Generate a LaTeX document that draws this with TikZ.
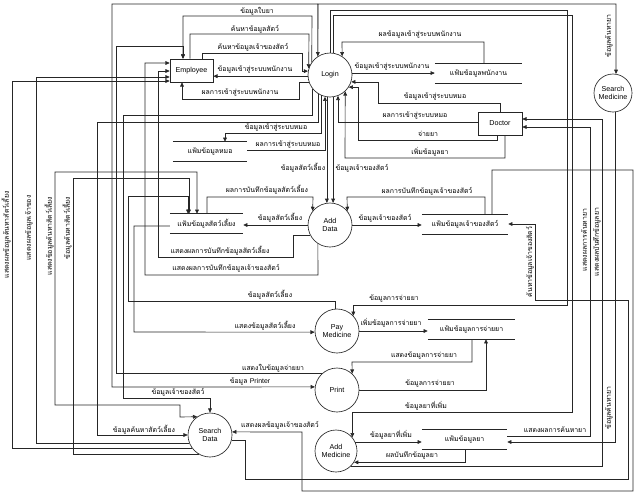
\documentclass[tikz,border=0pt]{standalone}
\usepackage{fontspec}
\setmainfont{Liberation Sans}
\newfontfamily\thaifnt[Script=Thai]{Loma}
\usetikzlibrary{arrows.meta}
\begin{document}
\begin{tikzpicture}[x=0.03cm,y=-0.03cm,
  ln/.style={draw=black!85,line width=0.55pt},
  arr/.style={ln,-{Triangle[length=3.6pt,width=3.2pt]}},
  arrb/.style={ln,{Triangle[length=3.6pt,width=3.2pt]}-{Triangle[length=3.6pt,width=3.2pt]}},
  proc/.style={circle,draw=black!85,line width=0.55pt,inner sep=0pt,align=center,font=\fontsize{6.1}{7}\selectfont},
  ent/.style={rectangle,draw=black!85,line width=0.55pt,inner sep=0pt,font=\fontsize{6.1}{7}\selectfont},
  store/.style={inner sep=0pt,minimum height=0.57cm,font=\fontsize{5.9}{7}\selectfont\thaifnt},
  lab/.style={inner sep=0.5pt,font=\fontsize{5.9}{7}\selectfont\thaifnt},
  vlab/.style={lab,rotate=90}]
\useasboundingbox (0,0) rectangle (639,497);
\fill[white] (0,0) rectangle (639,497);

% processes and entities
\node[ent,minimum width=1.29cm,minimum height=0.69cm] (emp) at (191.5,70.5) {Employee};
\node[ent,minimum width=1.32cm,minimum height=0.69cm] (doc) at (500,123.5) {Doctor};
\node[proc,minimum size=1.32cm] (login) at (330,75) {Login};
\node[proc,minimum size=1.14cm] (smed) at (613,93) {Search\\Medicine};
\node[proc,minimum size=1.32cm] (adddata) at (330,225) {Add\\Data};
\node[proc,minimum size=1.32cm] (pay) at (337,331) {Pay\\Medicine};
\node[proc,minimum size=1.32cm] (print) at (337,390) {Print};
\node[proc,minimum size=1.26cm] (addmed) at (336,451) {Add\\Medicine};
\node[proc,minimum size=1.32cm] (sdata) at (210,435) {Search\\Data};

% data stores
\node[store,minimum width=2.61cm] (fEmp) at (478.5,73.5) {แฟ้มข้อมูลพนักงาน};
\node[store,minimum width=2.22cm] (fDoc) at (210,151.5) {แฟ้มข้อมูลหมอ};
\node[store,minimum width=2.19cm] (fPet) at (206.5,223.5) {แฟ้มข้อมูลสัตว์เลี้ยง};
\node[store,minimum width=2.58cm] (fOwn) at (465,224.5) {แฟ้มข้อมูลเจ้าของสัตว์};
\node[store,minimum width=2.61cm] (fPay) at (471.5,329.5) {แฟ้มข้อมูลการจ่ายยา};
\node[store,minimum width=2.55cm] (fMed) at (464.5,439.5) {แฟ้มข้อมูลยา};
\foreach \s in {fEmp,fDoc,fPet,fOwn,fPay,fMed}
  \draw[ln] (\s.north west) -- (\s.north east) (\s.south west) -- (\s.south east);

% ---- connectors: Employee / Login
\draw[arrb] (print.172) -- (112,387) -- (112,4) -| (login.123);
\draw[arr] (login.123) -- (318,4) -| (smed.81);
\draw[arr] (login.145) -- (312,16) -- (183,16) -- (183,0 |- emp.north);
\draw[arr] (print.133) -| (116,46) -| (183,0 |- emp.north);
\draw[arr] (190,0 |- emp.north) |- (309,34) -- (login.163);
\draw[arr] (202,0 |- emp.north) |- (302,53) |- (login.170);
\draw[arr] (login.183) -- (emp.east |- login.183);
\draw[arr] (login.198) -| (299,99) -| (182,0 |- emp.south);
\draw[arr] (sdata.216) -| (12,81) -- (emp.west |- 0,81);
\draw[arr] (sdata.201) -| (36,77) -- (emp.west |- 0,77);
\draw[arr] (adddata.237) -- (318,275) -| (145,63) -- (emp.west |- 0,63);
\draw[arr] (adddata.207) -| (293,257) -| (158,71) -- (emp.west |- 0,71);

% ---- Login lower side
\draw[arr] (login.219) |- (123,115) -- (123,398) -| (sdata.north);
\draw[arr] (login.237) |- (97,122) -- (97,435) -- (sdata.west);
\draw[arr] (login.246) |- (225,133) -- (225,0 |- fDoc.north);
\draw[arr] (fDoc.east |- 0,150) -| (login.257);
\draw[arr] (login.262) -- (adddata.98);
\draw[arr] (login.278) -- (adddata.82);

% ---- Login right side / Doctor
\draw[arr] (doc.north) |- (378,103) |- (login.342);
\draw[arr] (doc.west |- 0,122) -| (login.291);
\draw[arr] (497,0 |- doc.south) |- (358,140) |- (login.327);
\draw[arr] (505,0 |- doc.south) |- (345,158) -- (login.313);
\draw[arr] (login.5) -- (fEmp.west |- login.5);
\draw[arr] (484,0 |- fEmp.north) |- (342,42) -- (login.57);
\draw[arr] (login.north) |- (567,10) -- (567,305) -| (pay.43);
\draw[arr] (login.82) |- (572,15) -- (572,412) -| (addmed.40);
\draw[arr] (fMed.east |- 0,436) -| (590,127) -- (doc.east |- 0,127);
\draw[arr] (addmed.314) -| (602,119) -- (doc.east |- 0,119);
\draw[arr] (smed.276) |- (fMed.east |- 0,442);

% ---- Add Data and stores
\draw[arr] (207,0 |- fPet.north) |- (313,197) -- (adddata.141);
\draw[arr] (adddata.west) -- (fPet.east |- adddata.west);
\draw[arr] (485,0 |- fOwn.north) |- (347,197) -- (adddata.39);
\draw[arr] (adddata.east) -- (fOwn.west |- adddata.east);
\draw[arr] (492,0 |- fOwn.north) |- (633,170) -- (633,491) -| (302,432) -- (sdata.8);
\draw[arr] (sdata.347) -| (245,479) -| (628,300) -| (535,224) -- (fOwn.east |- 0,224);

% ---- pet file and search data
\draw[arrb] (197,0 |- fPet.north) |- (55,172) -- (55,405) -| (180,417) -- (sdata.125);
\draw[arr] (sdata.240) -| (73,178) -| (189,0 |- fPet.north);
\draw[arr] (pay.95) |- (128,301) -- (128,196) -| (188,0 |- fPet.north);
\draw[arr] (fPet.west |- 0,226) -| (134,332) -- (pay.183);

% ---- pay, print, add medicine
\draw[arr] (pay.east) -- (fPay.west |- pay.east);
\draw[arr] (472,0 |- fPay.south) |- (352,362) -- (print.47);
\draw[arr] (print.east) -| (486,0 |- fPay.south);
\draw[arr] (addmed.25) -- (fMed.west |- addmed.25);
\draw[arr] (465,0 |- fMed.south) |- (addmed.328);

% ---- labels
\node[lab] (t1) at (257,11) {ข้อมูลใบยา};
\node[lab] (t2) at (255,29) {ค้นหาข้อมูลสัตว์};
\node[lab] (t3) at (253,47) {ค้นหาข้อมูลเจ้าของสัตว์};
\node[lab] (t4) at (255,70) {ข้อมูลเข้าสู่ระบบพนักงาน};
\node[lab] (t5) at (240,93) {ผลการเข้าสู่ระบบพนักงาน};
\node[lab] (t6) at (420,35) {ผลข้อมูลเข้าสู่ระบบพนักงาน};
\node[lab] (t7) at (392,67) {ข้อมูลเข้าสู่ระบบพนักงาน};
\node[lab] (t8) at (435,97) {ข้อมูลเข้าสู่ระบบหมอ};
\node[lab] (t9) at (415,116) {ผลการเข้าสู่ระบบหมอ};
\node[lab] (t10) at (428,134) {จ่ายยา};
\node[lab] (t11) at (430,152) {เพิ่มข้อมูลยา};
\node[lab] (t12) at (276,128) {ข้อมูลเข้าสู่ระบบหมอ};
\node[lab] (t13) at (288,145) {ผลการเข้าสู่ระบบหมอ};
\node[lab] (t14) at (303,168) {ข้อมูลสัตว์เลี้ยง};
\node[lab] (t15) at (362,168) {ข้อมูลเจ้าของสัตว์};
\node[lab] (t16) at (267,190) {ผลการบันทึกข้อมูลสัตว์เลี้ยง};
\node[lab] (t17) at (280,218) {ข้อมูลสัตว์เลี้ยง};
\node[lab] (t18) at (427,191) {ผลการบันทึกข้อมูลเจ้าของสัตว์};
\node[lab] (t19) at (385,218) {ข้อมูลเจ้าของสัตว์};
\node[lab] (t20) at (220,251) {แสดงผลการบันทึกข้อมูลสัตว์เลี้ยง};
\node[lab] (t21) at (226,268) {แสดงผลการบันทึกข้อมูลเจ้าของสัตว์};
\node[lab] (t22) at (270,295) {ข้อมูลสัตว์เลี้ยง};
\node[lab] (t23) at (265,326) {แสดงข้อมูลสัตว์เลี้ยง};
\node[lab] (t24) at (273,368) {แสดงใบข้อมูลจ่ายยา};
\node[lab] (t25) at (250,382) {ข้อมูล {\rmfamily Printer}};
\node[lab] (t26) at (178,392) {ข้อมูลเจ้าของสัตว์};
\node[lab] (t27) at (144,430) {ข้อมูลค้นหาสัตว์เลี้ยง};
\node[lab] (t28) at (280,425) {แสดงผลข้อมูลเจ้าของสัตว์};
\node[lab] (t29) at (394,299) {ข้อมูลการจ่ายยา};
\node[lab] (t30) at (391,323) {เพิ่มข้อมูลการจ่ายยา};
\node[lab] (t31) at (424,356) {แสดงข้อมูลการจ่ายยา};
\node[lab] (t32) at (430,384) {ข้อมูลการจ่ายยา};
\node[lab] (t33) at (426,406) {ข้อมูลยาที่เพิ่ม};
\node[lab] (t34) at (391,435) {ข้อมูลยาที่เพิ่ม};
\node[lab] (t35) at (412,456) {ผลบันทึกข้อมูลยา};
\node[lab] (t36) at (555,430) {แสดงผลการค้นหายา};
\node[vlab] (v1) at (609,36) {ข้อมูลค้นหายา};
\node[vlab] (v2) at (609,408) {ข้อมูลค้นหายา};
\node[vlab] (v3) at (584,240) {แสดงผลการค้นหายา};
\node[vlab] (v4) at (597,242) {แสดงผลบันทึกข้อมูลยา};
\node[vlab] (v5) at (530,262) {ค้นหาข้อมูลเจ้าของสัตว์};
\node[vlab] (v6) at (6,235) {แสดงผลข้อมูลค้นหาสัตว์เลี้ยง};
\node[vlab] (v7) at (29,228) {แสดงผลข้อมูลเจ้าของ};
\node[vlab] (v8) at (49,236) {แสดงข้อมูลค้นหาสัตว์เลี้ยง};
\node[vlab] (v9) at (67,228) {ข้อมูลค้นหาสัตว์เลี้ยง};
\end{tikzpicture}
\end{document}
